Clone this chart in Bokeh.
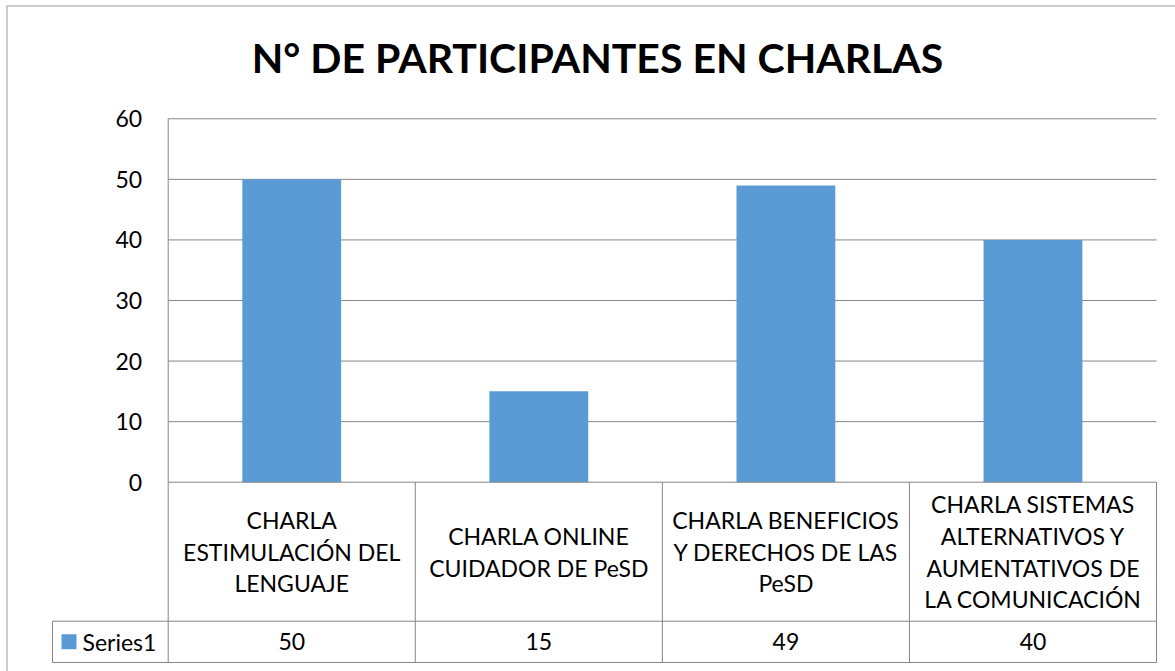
from bokeh.plotting import figure
from bokeh.models import Range1d, FixedTicker
from bokeh.core.properties import value
from bokeh.embed import file_html
from bokeh.resources import INLINE

title_text = "N° DE PARTICIPANTES EN CHARLAS"
categories = [
    "CHARLA\nESTIMULACIÓN DEL\nLENGUAJE",
    "CHARLA ONLINE\nCUIDADOR DE PeSD",
    "CHARLA BENEFICIOS\nY DERECHOS DE LAS\nPeSD",
    "CHARLA SISTEMAS\nALTERNATIVOS Y\nAUMENTATIVOS DE\nLA COMUNICACIÓN",
]
values = [50, 15, 49, 40]
series_name = "Series1"
yticks = [0, 10, 20, 30, 40, 50, 60]

BAR = "#5B9BD5"
GRID = "#868686"
BORDER = "#9A9A9A"
FONT = "Lato"
n = len(categories)
xc = [i + 0.5 for i in range(n)]

# scale: 247.08 px per category, 6.057 px per unit; axis origin at (167.7, 481.7)
KX, KY, X0, Y0 = 247.08, 6.057, 167.7, 481.7
def dx(px):
    return (px - X0) / KX
def dy(py):
    return (Y0 - py) / KY

row_sep = dy(620.7)
tbl_bot = dy(662)
cat_y = (0 + row_sep) / 2
val_y = (row_sep + tbl_bot) / 2
left_x = dx(52)

p = figure(width=1175, height=671, output_backend="svg", toolbar_location=None,
           x_range=Range1d(dx(0), dx(1175)), y_range=Range1d(dy(671), dy(0)),
           min_border_left=0, min_border_right=0, min_border_top=0, min_border_bottom=0)
p.outline_line_color = None
p.background_fill_color = "white"
p.border_fill_color = "white"
p.xgrid.visible = False
p.ygrid.visible = False
p.xaxis.visible = False

ya = p.yaxis[0]
ya.fixed_location = 0
ya.ticker = FixedTicker(ticks=yticks)
ya.axis_line_color = None
ya.major_tick_line_color = None
ya.minor_tick_line_color = None
ya.major_label_standoff = 20
ya.major_label_text_font = FONT
ya.major_label_text_font_size = "23px"
ya.major_label_text_color = "black"

# outer chart border (top and left visible)
p.segment(x0=[dx(6), dx(6.5)], x1=[dx(1175), dx(6.5)], y0=[dy(5.5), dy(5.5)], y1=[dy(5.5), dy(671)],
          line_color=BORDER, line_width=1)

# title
p.text(x=[dx(597)], y=[dy(57)], text=[title_text], text_align="center", text_baseline="middle",
       text_font=value(FONT), text_font_style="bold", text_font_size="41px", text_color="black")

# gridlines
gy = [t for t in yticks if t > 0]
p.segment(x0=[0] * len(gy), x1=[n] * len(gy), y0=gy, y1=gy, line_color=GRID, line_width=1)

# bars
p.vbar(x=xc, top=values, bottom=0, width=0.4, fill_color=BAR, line_color=None)

# table lines
p.segment(x0=[0, left_x, left_x], x1=[n, n, n], y0=[0, row_sep, tbl_bot], y1=[0, row_sep, tbl_bot],
          line_color=GRID, line_width=1)
p.segment(x0=[0], x1=[0], y0=[tbl_bot], y1=[max(yticks)], line_color=GRID, line_width=1)
p.segment(x0=[left_x], x1=[left_x], y0=[tbl_bot], y1=[row_sep], line_color=GRID, line_width=1)
vx = list(range(1, n + 1))
p.segment(x0=vx, x1=vx, y0=[tbl_bot] * n, y1=[0] * n, line_color=GRID, line_width=1)

# table texts
p.text(x=xc, y=[cat_y] * n, text=categories, text_align="center", text_baseline="middle",
       text_font=value(FONT), text_font_size="23px", text_color="black", text_line_height=1.13)
p.text(x=xc, y=[val_y] * n, text=[str(v) for v in values], text_align="center", text_baseline="middle",
       text_font=value(FONT), text_font_size="23px", text_color="black")
p.scatter(x=[dx(68.5)], y=[val_y], marker="square", size=15, fill_color=BAR, line_color=None)
p.text(x=[dx(82)], y=[val_y], text=[series_name], text_align="left", text_baseline="middle",
       text_font=value(FONT), text_font_size="23px", text_color="black")

open("out.html", "w").write(file_html(p, INLINE))
